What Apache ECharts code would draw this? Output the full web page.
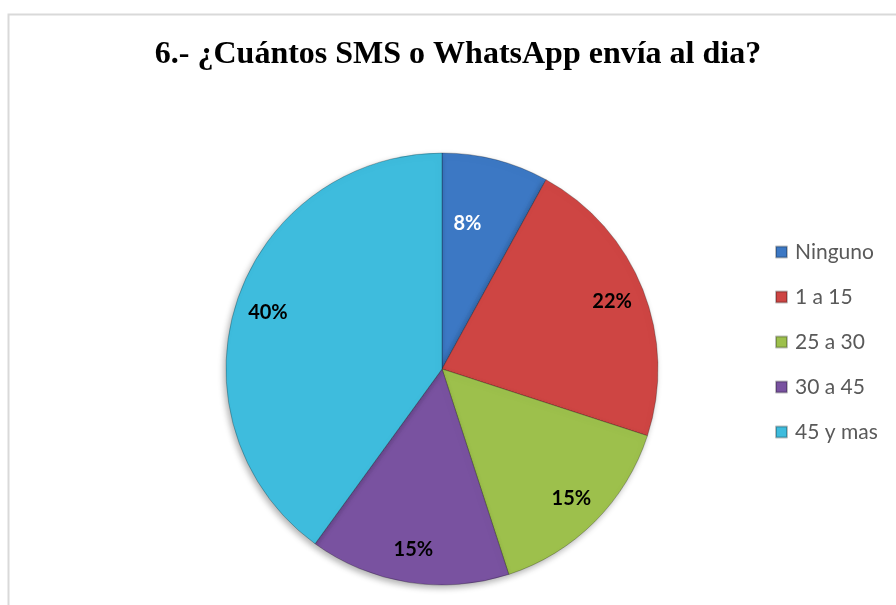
<!DOCTYPE html>
<html>
<head>
<meta charset="utf-8">
<script src="https://cdn.jsdelivr.net/npm/echarts@6/dist/echarts.min.js"></script>
<style>
html,body{margin:0;padding:0;background:#fff;}
#chart{width:896px;height:605px;}
</style>
</head>
<body>
<div id="chart"></div>
<script>
const titleText = '6.- ¿Cuántos SMS o WhatsApp envía al dia?';
const categories = ['Ninguno', '1 a 15', '25 a 30', '30 a 45', '45 y mas'];
const values = [8, 22, 15, 15, 40];
const colors = ['#3C78C4', '#CE4543', '#9DC04C', '#7952A0', '#3EBCDD'];
const labelColors = ['#ffffff', '#000000', '#000000', '#000000', '#000000'];

const chart = echarts.init(document.getElementById('chart'), null, {renderer: 'canvas'});

const mainData = categories.map((c, i) => ({
  name: c,
  value: values[i],
  itemStyle: {color: colors[i]}
}));
const labelData = categories.map((c, i) => ({
  name: c,
  value: values[i],
  label: i === 0 ? {color: labelColors[i], offset: [-20, 32]} : {color: labelColors[i]}
}));

chart.setOption({
  backgroundColor: '#ffffff',
  animation: false,
  graphic: [{
    type: 'rect',
    left: 6, top: 12,
    shape: {width: 1000, height: 700},
    style: {fill: 'none', stroke: '#d9d9d9', lineWidth: 2},
    silent: true,
    z: -10
  }],
  title: {
    text: titleText,
    left: 453,
    textAlign: 'center',
    top: 34,
    textStyle: {
      fontFamily: '"Liberation Serif", "Times New Roman", serif',
      fontWeight: 'bold',
      fontSize: 32,
      color: '#000000'
    }
  },
  legend: {
    orient: 'vertical',
    left: 775,
    top: 241,
    padding: 0,
    itemWidth: 11,
    itemHeight: 11,
    itemGap: 23,
    icon: 'rect',
    data: categories,
    textStyle: {
      fontFamily: 'Lato, "Open Sans", sans-serif',
      fontSize: 21,
      lineHeight: 22,
      color: '#595959',
      padding: [0, 0, 0, 3]
    }
  },
  series: [{
    type: 'pie',
    center: [442, 369],
    radius: [0, 216],
    startAngle: 90,
    clockwise: true,
    data: mainData,
    label: {show: false},
    labelLine: {show: false},
    itemStyle: {
      borderColor: 'rgba(0,0,0,0.25)',
      borderWidth: 1,
      shadowColor: 'rgba(0,0,0,0.3)',
      shadowBlur: 6,
      shadowOffsetX: -2,
      shadowOffsetY: 3
    },
    emphasis: {disabled: true},
    silent: true
  }, {
    type: 'pie',
    center: [442, 369],
    radius: [152, 208],
    startAngle: 90,
    clockwise: true,
    data: labelData,
    itemStyle: {color: 'rgba(0,0,0,0)'},
    label: {
      show: true,
      position: 'inside',
      formatter: '{d}%',
      fontFamily: 'Lato, "Open Sans", sans-serif',
      fontWeight: 'bold',
      fontSize: 20
    },
    labelLine: {show: false},
    emphasis: {disabled: true},
    silent: true
  }]
});
</script>
</body>
</html>
